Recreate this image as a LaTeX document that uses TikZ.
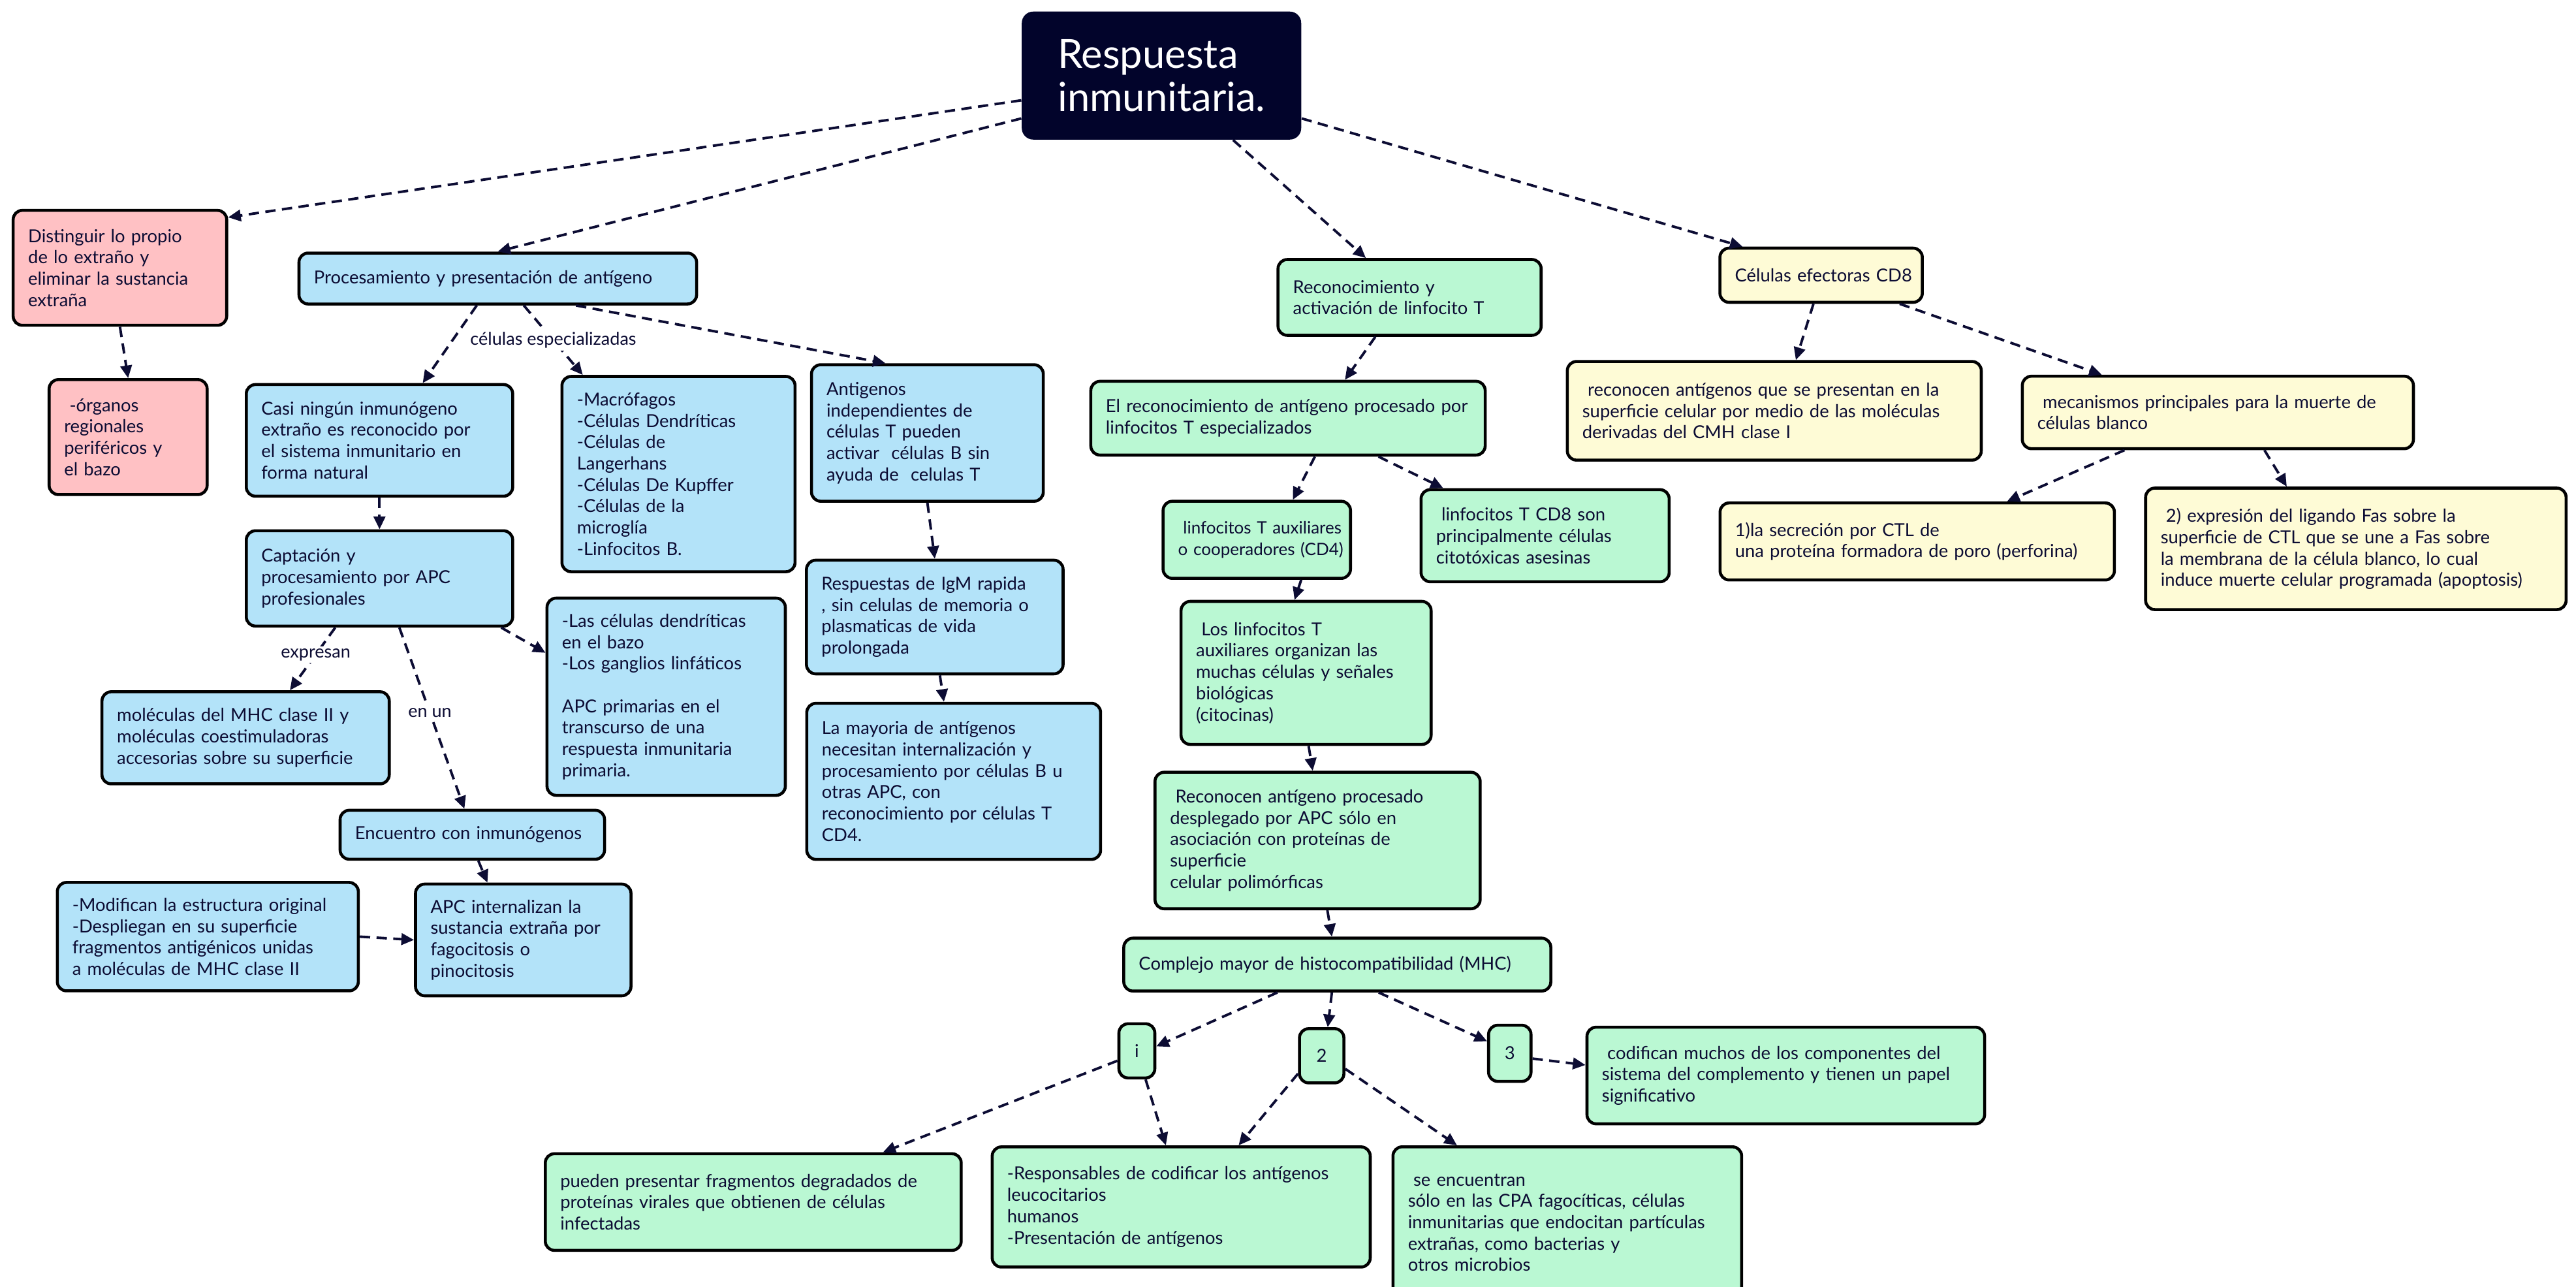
\documentclass[tikz,border=0pt]{standalone}
\usepackage{fontspec}
\setmainfont{Lato}
\usetikzlibrary{arrows.meta}

\definecolor{rosa}{HTML}{FFC1C4}
\definecolor{azul}{HTML}{B3E3F9}
\definecolor{verde}{HTML}{BAF8D3}
\definecolor{amarillo}{HTML}{FEFBD6}
\definecolor{marino}{HTML}{02042B}
\definecolor{tinta}{HTML}{0C0C33}
\newcommand{\lsp}{\hspace*{.3em}}

\begin{document}
\begin{tikzpicture}[x=0.025166cm, y=-0.025166cm,
  caja/.style={draw=black, line width=1.3pt, rounded corners=4pt, align=left,
    inner xsep=0.23cm, inner ysep=2pt, text=tinta, font=\fontsize{7.8}{9.3}\selectfont},
  numero/.style={caja, align=center, inner xsep=1pt},
  flecha/.style={draw=tinta, line width=1.1pt, dash pattern=on 4.5pt off 2.8pt,
    -{Triangle[length=5.5pt,width=5pt]}},
  etiqueta/.style={fill=white, text=tinta, inner sep=1pt, font=\fontsize{7.7}{8.5}\selectfont}]

  \useasboundingbox (0,0) rectangle (1568,783);

  % Nodo central
  \node[rounded corners=5pt, fill=marino, text=white, align=left,
    minimum width=4.28cm, minimum height=1.96cm,
    font=\fontsize{17.5}{19}\selectfont] (root) at (707,46) {Respuesta\\inmunitaria.};

  % Primer conjunto (rojo)
  \begin{scope}[every node/.style={caja, fill=rosa}]
    \node[text width=2.81cm, minimum height=1.76cm] (dist) at (73,163)
      {Distinguir lo propio\\de lo extraño y\\eliminar la sustancia\\extraña};
    \node[text width=1.96cm, minimum height=1.76cm] (org) at (78,266)
      {\lsp-órganos\\regionales\\periféricos y\\el bazo};
  \end{scope}

  \draw[flecha] (root.190) -- (dist.25);
  \draw[flecha] (dist.south) -- (org.north);

  % Segundo conjunto (azul)
  \begin{scope}[every node/.style={caja, fill=azul}]
    \node[text width=5.63cm, minimum height=0.78cm] (proc) at (303,169.5)
      {Procesamiento y presentación de antígeno};
    \node[text width=3.62cm, minimum height=1.71cm] (casi) at (231,268)
      {Casi ningún inmunógeno\\extraño es reconocido por\\el sistema inmunitario en\\forma natural};
    \node[text width=3.11cm, minimum height=2.99cm] (macro) at (413,288.5)
      {-Macrófagos\\-Células Dendríticas\\-Células de\\Langerhans\\-Células De Kupffer\\-Células de la\\microglía\\-Linfocitos B.};
    \node[text width=3.09cm, minimum height=2.09cm] (antig) at (564.5,263.5)
      {Antigenos\\independientes de\\células T pueden\\activar~ células B sin\\ayuda de~ celulas T};
    \node[text width=3.62cm, minimum height=1.46cm] (capt) at (231,352)
      {Captación y\\procesamiento por APC\\profesionales};
    \node[text width=3.94cm, minimum height=1.41cm] (molec) at (149.5,449)
      {moléculas del MHC clase II y\\moléculas coestimuladoras\\accesorias sobre su superficie};
    \node[text width=3.19cm, minimum height=3.02cm] (lasc) at (405.5,424)
      {-Las células dendríticas\\en el bazo\\-Los ganglios linfáticos\\~\\APC primarias en el\\transcurso de una\\respuesta inmunitaria\\primaria.};
    \node[text width=3.47cm, minimum height=1.74cm] (igm) at (569,375.5)
      {Respuestas de IgM rapida\\, sin celulas de memoria o\\plasmaticas de vida\\prolongada};
    \node[text width=4.04cm, minimum height=2.39cm] (mayor) at (580.5,475.5)
      {La mayoria de antígenos\\necesitan internalización y\\procesamiento por células B u\\otras APC, con\\reconocimiento por células T\\CD4.};
    \node[text width=3.59cm, minimum height=0.75cm] (encu) at (287.5,508)
      {Encuentro con inmunógenos};
    \node[text width=4.15cm, minimum height=1.66cm] (modif) at (126.5,570)
      {-Modifican la estructura original\\-Despliegan en su superficie\\fragmentos antigénicos unidas\\a moléculas de MHC clase II};
    \node[text width=2.84cm, minimum height=1.71cm] (apcint) at (318.5,572)
      {APC internalizan la\\sustancia extraña por\\fagocitosis o\\pinocitosis};
  \end{scope}

  \draw[flecha] (root.197) -- (proc.north);
  \draw[flecha] (proc.232) -- (casi.53);
  \draw[flecha] (proc.314) -- node[etiqueta] {células especializadas} (macro.134);
  \draw[flecha] (proc.341) -- (antig.121);
  \draw[flecha] (casi.south) -- (capt.north);
  \draw[flecha] (capt.228) -- node[etiqueta, pos=0.43] {expresan} (molec.47);
  \draw[flecha] (capt.292) -- node[etiqueta, pos=0.47] {en un} (encu.107);
  \draw[flecha] (capt.338) -- (lasc.160);
  \draw[flecha] (antig.south) -- (igm.north);
  \draw[flecha] (igm.275) -- (mayor.97);
  \draw[flecha] (encu.283) -- (apcint.122);
  \draw[flecha] (modif.east) -- (apcint.west);

  % Tercer conjunto (verde)
  \begin{scope}[every node/.style={caja, fill=verde}]
    \node[text width=3.57cm, minimum height=1.16cm] (recon) at (858,181)
      {Reconocimiento y\\activación de linfocito T};
    \node[text width=5.58cm, minimum height=1.13cm] (elrec) at (784,254.5)
      {\mbox{El reconocimiento de antígeno procesado por}\\linfocitos T especializados};
    \node[text width=2.41cm, minimum height=1.18cm, font=\fontsize{7.4}{9.3}\selectfont] (aux) at (765,328.5)
      {\mbox{\lsp linfocitos T auxiliares}\\\mbox{o cooperadores (CD4)}};
    \node[text width=3.34cm, minimum height=1.41cm] (cd8) at (940.5,326)
      {\lsp linfocitos T CD8 son\\principalmente células\\citotóxicas asesinas};
    \node[text width=3.37cm, minimum height=2.19cm] (organ) at (795,409.5)
      {\lsp Los linfocitos T\\auxiliares organizan las\\muchas células y señales\\biológicas\\(citocinas)};
    \node[text width=4.52cm, minimum height=2.09cm] (recap) at (802,511.5)
      {\lsp Reconocen antígeno procesado\\desplegado por APC sólo en\\asociación con proteínas de\\superficie\\celular polimórficas};
    \node[text width=6.08cm, minimum height=0.81cm] (mhc) at (814,587)
      {Complejo mayor de histocompatibilidad (MHC)};
    \node[numero, minimum width=0.55cm, minimum height=0.83cm] (one) at (692,639.5) {i};
    \node[numero, minimum width=0.68cm, minimum height=0.83cm] (two) at (804.5,642.5) {2};
    \node[numero, minimum width=0.65cm, minimum height=0.86cm] (three) at (919,641) {3};
    \node[text width=5.63cm, minimum height=1.48cm] (codif) at (1087,654.5)
      {\lsp codifican muchos de los componentes del\\sistema del complemento y tienen un papel\\significativo};
    \node[text width=5.91cm, minimum height=1.48cm] (pueden) at (458.5,731.5)
      {pueden presentar fragmentos degradados de\\proteínas virales que obtienen de células\\infectadas};
    \node[text width=5.33cm, minimum height=1.84cm] (resp) at (719,734.5)
      {-Responsables de codificar los antígenos\\leucocitarios\\humanos\\-Presentación de antígenos};
    \node[text width=4.88cm, minimum height=2.32cm] (seenc) at (954,744)
      {\lsp se encuentran\\sólo en las CPA fagocíticas, células\\inmunitarias que endocitan partículas\\extrañas, como bacterias y\\otros microbios};
  \end{scope}

  \draw[flecha] (root.318) -- (recon.138);
  \draw[flecha] (recon.229) -- (elrec.34);
  \draw[flecha] (elrec.305) -- (aux.48);
  \draw[flecha] (elrec.337) -- (cd8.155);
  \draw[flecha] (aux.318) -- (organ.99);
  \draw[flecha] (organ.272) -- (recap.94);
  \draw[flecha] (recap.278) -- (mhc.101);
  \draw[flecha] (mhc.205) -- (one.13);
  \draw[flecha] (mhc.259) -- (two.78);
  \draw[flecha] (mhc.326) -- (three.152);
  \draw[flecha] (three.347) -- (codif.177);
  \draw[flecha] (one.207) -- (pueden.21);
  \draw[flecha] (one.287) -- (resp.104);
  \draw[flecha] (two.217) -- (resp.47);
  \draw[flecha] (two.331) -- (seenc.145);

  % Cuarto conjunto (amarillo)
  \begin{scope}[every node/.style={caja, fill=amarillo}]
    \node[text width=2.64cm, minimum height=0.83cm] (cd8eff) at (1108.5,167.5)
      {\mbox{Células efectoras CD8}};
    \node[text width=5.88cm, minimum height=1.51cm] (recant) at (1080,250)
      {\lsp reconocen antígenos que se presentan en la\\superficie celular por medio de las moléculas\\derivadas del CMH clase I};
    \node[text width=5.53cm, minimum height=1.11cm] (mecan) at (1350,251)
      {\lsp mecanismos principales para la muerte de\\células blanco};
    \node[text width=5.58cm, minimum height=1.18cm] (secr) at (1167,329.5)
      {1)la secreción por CTL de\\una proteína formadora de poro (perforina)};
    \node[text width=5.98cm, minimum height=1.86cm] (fas) at (1434,334)
      {\lsp 2) expresión del ligando Fas sobre la\\superficie de CTL que se une a Fas sobre\\la membrana de la célula blanco, lo cual\\induce muerte celular programada (apoptosis)};
  \end{scope}

  \draw[flecha] (root.343) -- (cd8eff.160);
  \draw[flecha] (cd8eff.255) -- (recant.67);
  \draw[flecha] (cd8eff.340) -- (mecan.162);
  \draw[flecha] (mecan.202) -- (secr.24);
  \draw[flecha] (mecan.321) -- (fas.138);

\end{tikzpicture}
\end{document}
